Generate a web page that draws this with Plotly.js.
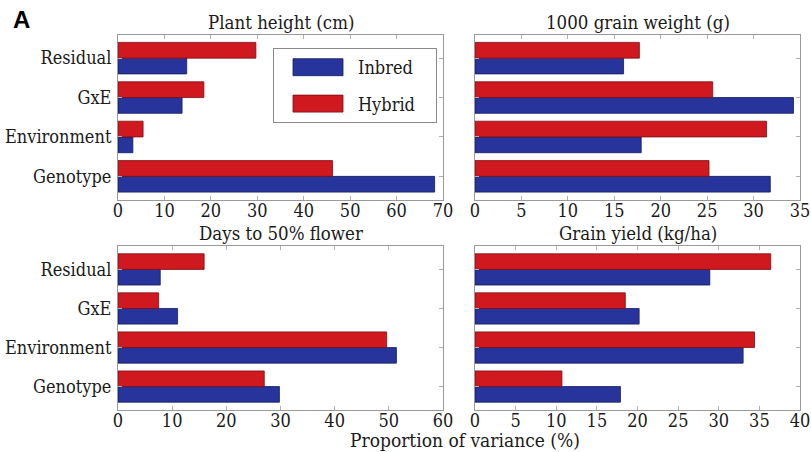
<!DOCTYPE html>
<html>
<head>
<meta charset="utf-8">
<script src="https://cdn.plot.ly/plotly-3.0.1.min.js"></script>
<style>html,body{margin:0;padding:0;background:#fff;}#chart{width:811px;height:452px;}</style>
</head>
<body>
<div id="chart"></div>
<script>
// Variance components (bottom to top)
const components = ['Genotype', 'Environment', 'GxE', 'Residual'];
const seriesNames = ['Inbred', 'Hybrid'];

const panelTitles = ['Plant height (cm)', '1000 grain weight (g)', 'Days to 50% flower', 'Grain yield (kg/ha)'];

// Plant height
const plantInbred = [68.2, 3.2, 13.8, 14.8];
const plantHybrid = [46.2, 5.4, 18.5, 29.7];
// 1000 grain weight
const grainWtInbred = [31.8, 17.9, 34.3, 16.0];
const grainWtHybrid = [25.2, 31.4, 25.6, 17.7];
// Days to 50% flower
const daysInbred = [29.8, 51.4, 11.0, 7.8];
const daysHybrid = [27.0, 49.6, 7.5, 15.9];
// Grain yield
const yieldInbred = [17.9, 33.0, 20.2, 28.9];
const yieldHybrid = [10.7, 34.4, 18.5, 36.4];

const xRanges = [[0, 70], [0, 35], [0, 60], [0, 40]];
const xDticks = [10, 5, 10, 5];

const inbredColor = '#26349b';
const hybridColor = '#d0181f';
const inbredEdge = '#141c5c';
const hybridEdge = '#7a0d12';

const serif = '"DejaVu Serif Condensed", "DejaVu Serif", serif';
const pad = '\u00a0\u00a0\u00a0';

const panels = [
  [plantInbred, plantHybrid],
  [grainWtInbred, grainWtHybrid],
  [daysInbred, daysHybrid],
  [yieldInbred, yieldHybrid]
];

const traces = [];
panels.forEach((p, i) => {
  const xa = i === 0 ? 'x' : 'x' + (i + 1);
  const ya = i === 0 ? 'y' : 'y' + (i + 1);
  traces.push({
    type: 'bar', orientation: 'h', name: seriesNames[0] + pad, legendgroup: 'inbred',
    x: p[0], y: components, xaxis: xa, yaxis: ya,
    marker: {color: inbredColor, line: {color: inbredEdge, width: 0.8}},
    showlegend: i === 0, hoverinfo: 'x+y+name'
  });
  traces.push({
    type: 'bar', orientation: 'h', name: seriesNames[1] + pad, legendgroup: 'hybrid',
    x: p[1], y: components, xaxis: xa, yaxis: ya,
    marker: {color: hybridColor, line: {color: hybridEdge, width: 0.8}},
    showlegend: i === 0, hoverinfo: 'x+y+name'
  });
});

const W = 811, H = 452;
const xDomLeft = [118 / W, 443 / W];
const xDomRight = [475 / W, 800 / W];
const yDomTop = [1 - 200 / H, 1 - 34.5 / H];
const yDomBot = [1 - 410 / H, 1 - 246 / H];
const xDoms = [xDomLeft, xDomRight, xDomLeft, xDomRight];
const yDoms = [yDomTop, yDomTop, yDomBot, yDomBot];

const layout = {
  width: W, height: H,
  margin: {l: 0, r: 0, t: 0, b: 0},
  paper_bgcolor: '#fff', plot_bgcolor: '#fff',
  barmode: 'group', bargap: 0.2, bargroupgap: 0,
  font: {family: serif, size: 18, color: '#1a1a1a'},
  legend: {
    x: 273 / W, y: 1 - 48 / H, xanchor: 'left', yanchor: 'top',
    bgcolor: '#fff', bordercolor: '#8a8a8a', borderwidth: 1,
    font: {family: serif, size: 18, color: '#1a1a1a'},
    traceorder: 'grouped', tracegroupgap: 10, itemwidth: 74
  },
  annotations: [],
  showlegend: true
};

for (let i = 0; i < 4; i++) {
  const sfx = i === 0 ? '' : String(i + 1);
  const xa = 'x' + (i === 0 ? '' : i + 1);
  const ya = 'y' + (i === 0 ? '' : i + 1);
  layout['xaxis' + sfx] = {
    domain: xDoms[i], anchor: ya, range: xRanges[i], dtick: xDticks[i], tick0: 0,
    showgrid: false, zeroline: false, showline: true, linecolor: '#9a9a9a', linewidth: 1,
    mirror: 'ticks', ticks: 'inside', ticklen: 4, tickcolor: '#b0b0b0',
    tickfont: {family: serif, size: 18, color: '#1a1a1a'}, ticklabelstandoff: -6,
    fixedrange: true
  };
  layout['yaxis' + sfx] = {
    domain: yDoms[i], anchor: xa, type: 'category',
    categoryorder: 'array', categoryarray: components, range: [-0.6, 3.6],
    showgrid: false, zeroline: false, showline: true, linecolor: '#9a9a9a', linewidth: 1,
    mirror: 'ticks', ticks: 'inside', ticklen: 4, tickcolor: '#b0b0b0',
    showticklabels: i % 2 === 0, ticklabelstandoff: 2,
    tickfont: {family: serif, size: 18, color: '#1a1a1a'},
    fixedrange: true
  };
  layout.annotations.push({
    text: panelTitles[i], showarrow: false, xref: 'paper', yref: 'paper',
    x: (xDoms[i][0] + xDoms[i][1]) / 2, y: yDoms[i][1], xanchor: 'center', yanchor: 'bottom',
    yshift: 0, font: {family: serif, size: 18.5, color: '#1a1a1a'}
  });
}

layout.annotations.push({
  text: 'Proportion of variance (%)', showarrow: false, xref: 'paper', yref: 'paper',
  x: 465 / W, y: 1 - 440 / H, xanchor: 'center', yanchor: 'middle',
  font: {family: serif, size: 19, color: '#1a1a1a'}
});
layout.annotations.push({
  text: '<b>A</b>', showarrow: false, xref: 'paper', yref: 'paper',
  x: 21 / W, y: 1 - 20 / H, xanchor: 'center', yanchor: 'middle',
  font: {family: 'Liberation Sans, Arial, sans-serif', size: 24, color: '#000'}
});

Plotly.newPlot('chart', traces, layout, {displayModeBar: false, staticPlot: true}).then(() => {
  document.querySelectorAll('#chart .legend .legendpoints path').forEach(p => {
    p.setAttribute('d', 'M-23,8.5H27V-8.5H-23Z');
  });
});
</script>
</body>
</html>
